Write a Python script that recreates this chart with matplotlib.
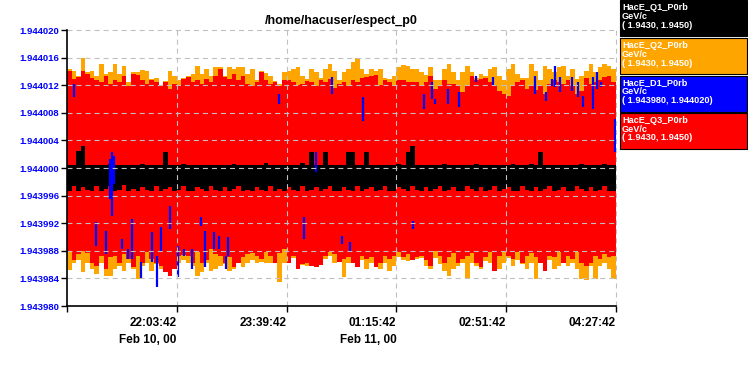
import matplotlib
matplotlib.use('Agg')
import matplotlib.pyplot as plt
import matplotlib.dates as mdates
from matplotlib.patches import Rectangle
from matplotlib.ticker import FormatStrFormatter
from datetime import datetime, timedelta
import numpy as np

plt.rcParams['font.family'] = ['Liberation Sans', 'DejaVu Sans']
plt.rcParams['lines.scale_dashes'] = False

# values are offsets from 1.944 GeV/c, in units of 1e-6
BASE = 1.944
STEP_MIN = 4          # each sample bin covers 4 minutes
t0 = datetime(2000, 2, 10, 20, 27, 42)
t1 = datetime(2000, 2, 11, 4, 27, 42)

# HacE_Q3_P0rb (red) : upper / lower envelope per bin
q3_hi = [14.1, 12.9, 13.2, 14.1, 13.6, 13.0, 12.7, 12.4, 13.4, 12.2,
         12.7, 12.4, 13.4, 11.9, 13.6, 13.5, 12.7, 12.2, 12.7, 12.4,
         11.9, 12.4, 11.4, 12.2, 11.9, 12.9, 13.2, 12.4, 12.7, 12.2,
         12.9, 12.4, 13.4, 14.4, 13.2, 12.9, 13.6, 12.7, 13.4, 12.2,
         11.9, 12.4, 13.9, 12.7, 12.2, 12.4, 11.9, 12.7, 12.8, 12.4,
         12.0, 12.2, 12.6, 12.4, 11.9, 12.7, 12.4, 12.9, 11.6, 12.2,
         12.4, 11.9, 12.7, 12.4, 13.0, 13.2, 13.4, 13.5, 12.0, 12.7,
         12.4, 11.9, 12.8, 12.7, 12.4, 12.5, 12.4, 11.9, 12.4, 13.3,
         11.4, 11.9, 12.7, 12.2, 12.2, 11.9, 11.0, 11.9, 13.4, 12.7,
         12.9, 13.0, 12.4, 12.0, 11.2, 10.7, 10.5, 11.9, 12.4, 12.7,
         11.5, 11.9, 11.3, 11.9, 10.7, 12.2, 12.7, 12.4, 12.2, 12.7,
         11.9, 10.7, 11.2, 13.0, 12.2, 12.4, 12.8, 13.2, 13.4, 12.4]
q3_lo = [-12.2, -13.4, -12.5, -12.0, -12.3, -13.7, -14.2, -12.7, -14.6, -12.9,
         -12.7, -13.7, -12.5, -13.2, -14.4, -12.7, -13.7, -12.2, -13.2, -13.7,
         -14.2, -15.1, -15.6, -14.6, -12.7, -12.6, -12.8, -13.7, -12.2, -13.7,
         -13.3, -11.7, -12.5, -12.7, -13.7, -12.9, -14.4, -13.7, -12.9, -12.5,
         -12.3, -12.7, -13.2, -12.2, -12.7, -13.7, -12.3, -11.8, -13.7, -12.8,
         -14.6, -13.9, -13.7, -14.2, -14.4, -14.1, -12.7, -12.2, -12.5, -13.6,
         -13.2, -12.9, -13.7, -14.4, -12.8, -13.2, -12.9, -14.4, -13.7, -12.7,
         -13.2, -12.7, -12.2, -12.9, -12.5, -13.3, -12.9, -12.7, -13.4, -14.2,
         -12.0, -12.7, -13.7, -12.9, -12.3, -13.7, -13.2, -12.7, -12.3, -13.7,
         -14.4, -12.9, -12.2, -14.9, -12.7, -12.2, -12.7, -13.2, -12.2, -13.7,
         -12.7, -12.3, -12.9, -13.7, -14.9, -12.7, -12.9, -12.2, -13.7, -12.7,
         -13.2, -12.2, -13.7, -14.2, -13.7, -12.7, -13.2, -12.5, -12.9, -12.7]

# HacE_Q2_P0rb (orange)
q2_hi = [14.3, 14.1, 13.4, 16.0, 13.9, 14.1, 13.4, 15.1, 13.6, 13.9,
         15.1, 13.6, 14.8, 12.4, 13.9, 13.9, 14.2, 14.1, 12.9, 13.1,
         12.1, 12.6, 14.1, 13.4, 12.7, 13.1, 13.4, 13.6, 14.8, 13.6,
         14.3, 13.4, 14.6, 14.6, 13.4, 14.6, 14.3, 14.6, 14.6, 13.6,
         14.3, 12.7, 14.1, 13.8, 13.4, 12.6, 12.2, 13.9, 14.1, 14.3,
         14.6, 13.4, 12.9, 14.3, 13.9, 13.1, 14.3, 15.1, 14.1, 12.7,
         13.9, 14.3, 15.3, 16.0, 14.3, 13.6, 14.3, 14.1, 14.3, 13.1,
         12.9, 13.4, 14.6, 14.9, 14.8, 14.3, 14.3, 13.9, 13.5, 14.6,
         12.7, 12.8, 14.3, 15.1, 13.9, 12.7, 13.9, 14.8, 13.9, 13.0,
         13.6, 13.3, 14.3, 14.6, 13.4, 12.7, 14.3, 15.1, 13.6, 13.0,
         13.1, 15.1, 14.1, 12.7, 14.8, 14.3, 13.9, 14.6, 14.8, 13.4,
         14.3, 12.9, 13.4, 14.1, 15.1, 13.9, 14.6, 15.1, 14.8, 14.3]
q2_lo = [-14.8, -13.7, -13.3, -15.1, -13.8, -14.6, -15.4, -13.7, -15.6, -15.6,
         -14.6, -14.2, -14.9, -13.7, -14.6, -16.1, -14.2, -13.7, -14.9, -13.9,
         -14.6, -14.1, -14.0, -14.2, -13.7, -13.4, -13.7, -14.2, -15.6, -15.1,
         -13.7, -14.9, -14.6, -14.2, -13.9, -14.9, -14.6, -13.7, -14.4, -13.7,
         -13.3, -13.7, -13.6, -13.7, -13.7, -13.3, -16.5, -13.7, -13.8, -13.1,
         -14.2, -14.1, -14.2, -13.7, -13.8, -13.1, -13.2, -12.8, -13.7, -13.0,
         -15.8, -13.7, -13.8, -13.7, -13.3, -14.6, -13.7, -13.3, -14.6, -13.8,
         -14.9, -14.2, -12.9, -13.4, -13.5, -13.3, -13.2, -13.0, -14.2, -14.6,
         -13.0, -13.9, -14.9, -15.6, -14.6, -14.2, -13.7, -16.1, -13.7, -14.2,
         -14.6, -13.5, -13.7, -13.2, -14.6, -13.7, -13.0, -14.2, -13.4, -13.9,
         -14.6, -13.7, -16.1, -13.7, -14.2, -13.4, -14.6, -14.2, -13.7, -14.2,
         -13.7, -14.6, -16.1, -16.3, -14.2, -16.1, -14.2, -13.7, -14.6, -16.1]

# HacE_Q1_P0rb (black)
q1_hi = [0.4, 0.4, 2.5, 3.2, 0.4, 0.5, 0.4, 0.4, 0.4, 0.6,
         0.4, 0.4, 0.5, 0.4, 0.4, 0.4, 0.6, 0.4, 0.4, 0.4,
         0.5, 2.3, 0.4, 0.4, 0.4, 0.6, 0.4, 0.4, 0.4, 0.4,
         0.4, 0.5, 0.4, 0.4, 0.4, 0.4, 0.6, 0.4, 0.4, 0.5,
         0.4, 0.4, 0.4, 0.7, 0.4, 0.4, 0.4, 0.4, 0.4, 0.5,
         0.4, 0.7, 0.4, 2.3, 0.4, 0.4, 2.3, 0.4, 0.5, 0.4,
         0.4, 2.3, 2.3, 0.4, 0.4, 2.3, 0.4, 0.5, 0.4, 0.4,
         0.4, 0.4, 0.6, 0.4, 2.3, 3.2, 0.4, 0.4, 0.4, 0.5,
         0.4, 0.4, 0.6, 0.4, 0.4, 0.5, 0.4, 0.4, 0.4, 0.6,
         0.4, 0.4, 0.4, 0.5, 0.4, 0.4, 0.4, 0.6, 0.4, 0.4,
         0.4, 0.6, 0.5, 2.3, 0.4, 0.4, 0.4, 0.4, 0.5, 0.4,
         0.4, 0.4, 0.6, 0.4, 0.4, 0.5, 0.4, 0.6, 0.4, 0.4]
q1_lo = [-3.3, -2.6, -3.3, -2.7, -3.2, -3.3, -2.6, -3.3, -3.1, -2.6,
         -3.3, -3.2, -2.5, -3.3, -3.1, -3.3, -2.7, -3.2, -3.3, -2.6,
         -3.3, -3.1, -2.8, -3.3, -3.2, -2.6, -3.3, -3.3, -2.7, -3.1,
         -3.3, -2.6, -3.2, -3.3, -2.8, -3.3, -3.1, -2.6, -3.3, -3.2,
         -3.3, -2.7, -3.2, -3.3, -2.6, -3.3, -3.1, -3.3, -2.7, -3.2,
         -3.3, -2.6, -3.3, -3.2, -2.8, -3.3, -3.1, -2.6, -3.3, -3.3,
         -2.7, -3.2, -3.3, -2.6, -3.3, -3.1, -2.8, -3.3, -3.2, -2.6,
         -3.3, -3.3, -2.7, -3.1, -3.3, -2.6, -3.2, -3.3, -2.8, -3.3,
         -3.1, -2.6, -3.3, -3.2, -2.7, -3.3, -3.3, -2.6, -3.1, -3.3,
         -2.8, -3.3, -3.2, -2.6, -3.3, -3.1, -2.7, -3.3, -3.3, -2.6,
         -3.2, -3.3, -2.8, -3.3, -3.1, -2.6, -3.3, -3.2, -2.7, -3.3,
         -3.3, -2.6, -3.1, -3.3, -2.8, -3.3, -3.2, -2.6, -3.3, -3.3]

# HacE_D1_P0rb (blue): the samples that show through, minutes after t0
d1_t = [6.1, 25.4, 34.1, 37.6, 39.3, 41.1, 48.1, 53.3, 56.8, 64.7,
        74.3, 78.7, 82.2, 90.1, 97.0, 102.3, 109.3, 117.2, 120.7, 128.5,
        132.9, 139.0, 140.8, 185.3, 207.2, 217.7, 231.7, 240.4, 247.4, 258.8,
        302.5, 312.1, 319.1, 321.7, 333.1, 342.7, 357.6, 372.5, 409.2, 418.8,
        424.0, 426.7, 431.0, 441.5, 446.8, 451.1, 459.9, 463.4, 466.9, 479.1]
d1_hi = [12.2, -7.8, -9.1, 1.3, 2.3, 1.7, -10.3, -11.7, -7.4, -13.6,
         -9.3, -12.8, -8.6, -5.5, -11.3, -11.7, -11.7, -7.1, -9.1, -9.3,
         -9.9, -12.8, -10.0, 10.7, -7.1, 2.3, 13.2, -9.9, -10.7, 10.3,
         -7.7, 10.7, 12.5, 10.0, 11.4, 11.0, 13.3, 13.2, 13.3, 11.0,
         12.9, 14.8, 13.2, 13.2, 12.5, 10.4, 13.2, 13.9, 12.5, 7.1]
d1_lo = [10.3, -11.3, -12.5, -4.5, -7.0, -2.3, -11.7, -13.2, -13.2, -16.1,
         -13.6, -17.2, -12.2, -8.8, -15.8, -12.8, -14.6, -8.4, -14.3, -11.7,
         -11.7, -14.6, -12.8, 9.3, -10.3, -0.6, 10.7, -11.0, -12.0, 6.8,
         -8.8, 8.6, 10.0, 9.3, 9.3, 8.8, 12.5, 11.9, 10.7, 9.7,
         11.9, 11.7, 11.0, 11.2, 10.3, 8.8, 8.6, 11.4, 11.7, 2.3]

ytick_vals = [-20, -16, -12, -8, -4, 0, 4, 8, 12, 16, 20]
xtick_labels = ['22:03:42\nFeb 10, 00', '23:39:42', '01:15:42\nFeb 11, 00',
                '02:51:42', '04:27:42']

legend_rows = [
    ('#000000', 'HacE_Q1_P0rb', '( 1.9430, 1.9450)'),
    ('#ffa500', 'HacE_Q2_P0rb', '( 1.9430, 1.9450)'),
    ('#0000ff', 'HacE_D1_P0rb', '( 1.943980, 1.944020)'),
    ('#ff0000', 'HacE_Q3_P0rb', '( 1.9430, 1.9450)'),
]


def to_val(v):
    return BASE + np.asarray(v) * 1e-6


def ext(v):
    a = to_val(v)
    return np.append(a, a[-1])


W, H = 748, 375
fig = plt.figure(figsize=(W / 100, H / 100), dpi=100)
fig.patch.set_facecolor('white')
ax = fig.add_axes([67 / W, 1 - 306 / H, (616 - 67) / W, (306 - 30) / H])

x_edges = mdates.date2num([t0 + timedelta(minutes=STEP_MIN * i) for i in range(len(q3_hi) + 1)])

ax.fill_between(x_edges, ext(q2_lo), ext(q2_hi), step='post', color='#ffa500',
                lw=0, antialiased=False, zorder=1)
ax.fill_between(x_edges, ext(q3_lo), ext(q3_hi), step='post', color='#ff0000',
                lw=0, antialiased=False, zorder=1.2)
ax.fill_between(x_edges, ext(q1_lo), ext(q1_hi), step='post', color='#000000',
                lw=0, antialiased=False, zorder=1.4)
bt = mdates.date2num([t0 + timedelta(minutes=m) for m in d1_t])
ax.vlines(bt, to_val(d1_lo), to_val(d1_hi), colors='#0000ff', lw=1.6, zorder=1.6)

yt = to_val(ytick_vals)
xt = mdates.date2num([t0 + timedelta(minutes=96 * k) for k in range(1, 6)])
ax.set_xlim(mdates.date2num(t0), mdates.date2num(t1))
ax.set_ylim(yt[0], yt[-1])

grid_kw = dict(color='#c0c0c0', lw=0.8, ls=(0, (3.6, 2.9)), zorder=3, clip_on=False)
for y in yt[1:]:
    ax.axhline(y, **grid_kw)
for x in xt:
    ax.axvline(x, **grid_kw)

ax.set_yticks(yt)
ax.yaxis.set_major_formatter(FormatStrFormatter('%.6f'))
for lab in ax.get_yticklabels():
    lab.set_color('#0000ff')
    lab.set_fontweight('bold')
    lab.set_fontsize(6.8)

ax.set_xticks(xt)
ax.set_xticks([mdates.date2num(t0)], minor=True)
ax.set_xticklabels(xtick_labels, ha='right', fontsize=8.5, fontweight='bold',
                   linespacing=1.55)
ax.tick_params(axis='x', which='both', length=4, width=1, direction='out', pad=4)
ax.tick_params(axis='y', length=4, width=1, direction='out', pad=1.5)

for s in ('top', 'right'):
    ax.spines[s].set_visible(False)
for s in ('left', 'bottom'):
    ax.spines[s].set_linewidth(1.2)
    ax.spines[s].set_zorder(4)

fig.text(341.5 / W, 1 - 21 / H, '/home/hacuser/espect_p0', ha='center', va='center',
         fontsize=9, fontweight='bold')

box_tops = [0, 38, 75.5, 113]
for top, (col, name, rng) in zip(box_tops, legend_rows):
    fig.add_artist(Rectangle((620 / W, 1 - (top + 36) / H), 127 / W, 36 / H,
                             transform=fig.transFigure, facecolor=col,
                             edgecolor='black', lw=0.8))
    for dy, txt in zip((10, 19, 27.5), (name, 'GeV/c', rng)):
        fig.text(622 / W, 1 - (top + dy) / H, txt, ha='left', va='baseline',
                 color='white', fontsize=6.6, fontweight='bold')

fig.savefig('out.png', dpi=100)
